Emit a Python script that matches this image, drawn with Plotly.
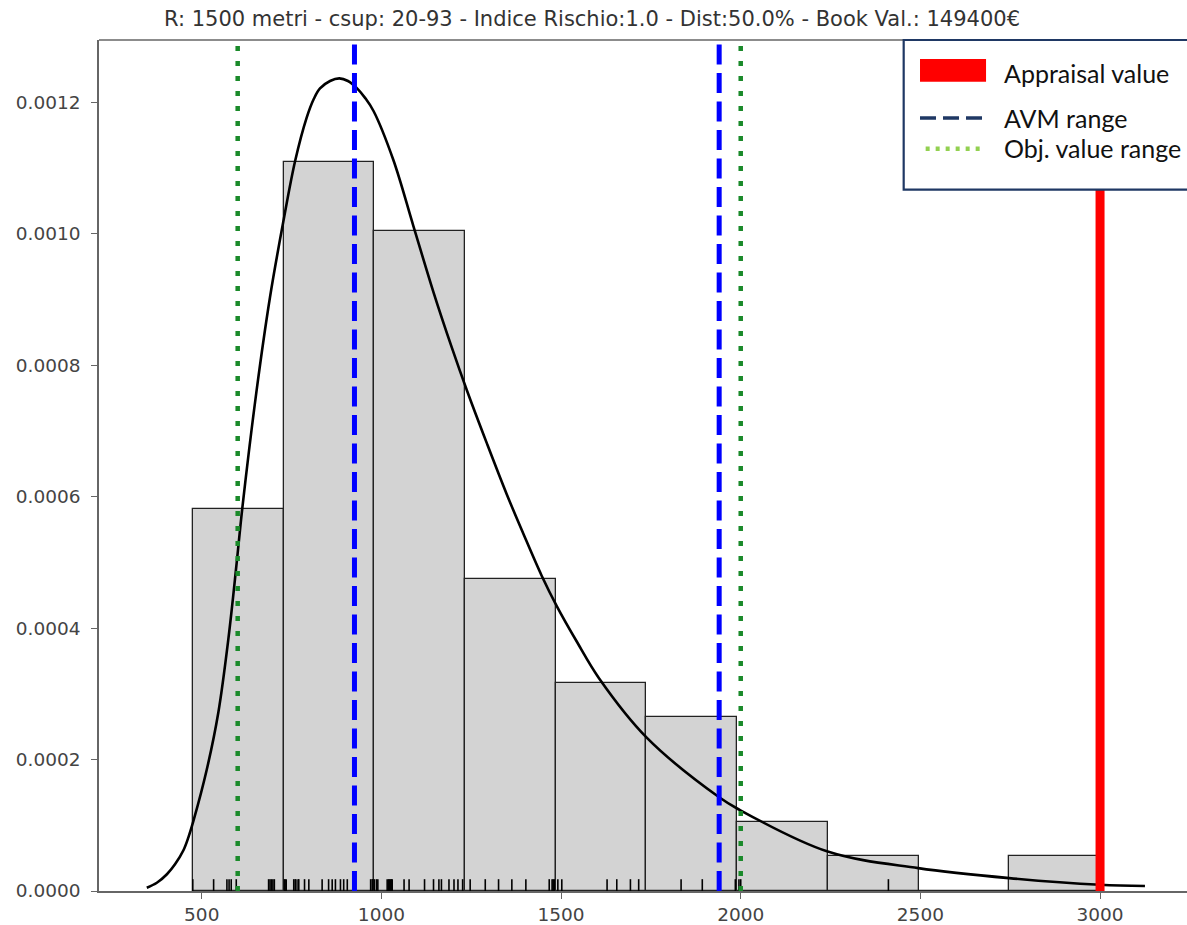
import numpy as np
import plotly.graph_objects as go

TITLE = "R: 1500 metri - csup: 20-93 - Indice Rischio:1.0 - Dist:50.0% - Book Val.: 149400€"

# observed values (rug)
samples = [475, 533, 570, 576, 582, 596, 686, 690, 694, 698, 702,
           730, 732, 735, 756, 760, 762, 768, 770, 786, 798, 835, 853, 863, 872,
           886, 895, 905, 925, 970, 975, 975,
           980, 986, 990, 1016, 1020, 1022, 1026, 1028, 1030, 1063, 1077, 1120,
           1145, 1160, 1167, 1188, 1202, 1213, 1226,
           1247, 1289, 1326, 1363, 1402, 1467, 1475, 1478, 1481,
           1491, 1502, 1628, 1655, 1693, 1716,
           1834, 1893, 1938, 1942, 1985,
           1995, 2000, 2411, 3000]
n_bins = 10

# fitted density curve
kde_x = [347, 375, 403, 426, 449, 463, 477, 514, 546, 574, 597, 613, 653, 690,
         727, 760, 792, 812, 829, 857, 883, 907, 931, 955, 978, 1033, 1089,
         1145, 1196, 1238, 1293, 1349, 1395, 1446, 1488, 1544, 1606, 1739, 1940,
         1990, 2242, 2494, 2747, 3000, 3125]
kde_y = [0.0000050, 0.0000125, 0.0000255, 0.0000410, 0.0000620, 0.0000820,
         0.0001070, 0.0001848, 0.0002712, 0.0003832, 0.0004982, 0.0005830,
         0.0007630, 0.0009036, 0.0010183, 0.0011107, 0.0011763, 0.0012050,
         0.0012207, 0.0012320, 0.0012360, 0.0012320, 0.0012216, 0.0012060,
         0.0011864, 0.0011122, 0.0010114, 0.0009106, 0.0008264, 0.0007613,
         0.0006816, 0.0006032, 0.0005434, 0.0004796, 0.0004334, 0.0003791,
         0.0003233, 0.0002329, 0.0001425, 0.0001255, 0.0000600, 0.0000348,
         0.0000196, 0.0000095, 0.0000075]

avm_range = [925, 1940]
obj_range = [600, 2000]
appraisal_value = 3000

legend_labels = ["Appraisal value", "AVM range", "Obj. value range"]

x_range = [214, 3242]
y_range = [0, 0.0012944]
x_ticks = [500, 1000, 1500, 2000, 2500, 3000]
y_ticks = [0.0, 0.0002, 0.0004, 0.0006, 0.0008, 0.0010, 0.0012]
rug_height = 0.000018

counts, edges = np.histogram(samples, bins=n_bins)
widths = np.diff(edges)
centers = edges[:-1] + widths / 2
density = counts / (len(samples) * widths)

fig = go.Figure()

fig.add_trace(go.Bar(
    x=centers, y=density, width=widths,
    marker=dict(color="#d3d3d3", line=dict(color="#222222", width=1.3)),
    showlegend=False, hoverinfo="skip"))

# rug
rx, ry = [], []
for v in samples:
    rx += [v, v, None]
    ry += [0, rug_height, None]
fig.add_trace(go.Scatter(x=rx, y=ry, mode="lines",
                         line=dict(color="black", width=1.6),
                         showlegend=False, hoverinfo="skip"))

fig.add_trace(go.Scatter(x=kde_x, y=kde_y, mode="lines",
                         line=dict(color="black", width=2.6, shape="spline", smoothing=1.0),
                         showlegend=False, hoverinfo="skip"))

for v in obj_range:
    fig.add_trace(go.Scatter(x=[v, v], y=[0, 0.0013], mode="lines",
                             line=dict(color="#1a8a2a", width=4.5, dash="5px,10px"),
                             showlegend=False, hoverinfo="skip"))
for v in avm_range:
    fig.add_trace(go.Scatter(x=[v, v], y=[0, 0.0013], mode="lines",
                             line=dict(color="#0000ff", width=5, dash="20px,8.5px"),
                             showlegend=False, hoverinfo="skip"))
fig.add_trace(go.Scatter(x=[appraisal_value, appraisal_value], y=[0, 0.0013], mode="lines",
                         line=dict(color="#ff0000", width=9),
                         showlegend=False, hoverinfo="skip"))

# frame top line
shapes = [dict(type="line", xref="paper", yref="paper", x0=0, x1=1, y0=1, y1=1,
               line=dict(color="#666666", width=1.5), layer="above")]

# custom legend box (pasted-style legend)
shapes.append(dict(type="rect", xref="paper", yref="paper",
                   x0=0.7396, x1=1.02, y0=0.8242, y1=1.0,
                   fillcolor="white", line=dict(color="#1f3864", width=2.2), layer="above"))
shapes.append(dict(type="rect", xref="paper", yref="paper",
                   x0=0.7546, x1=0.8153, y0=0.9508, y1=0.9777,
                   fillcolor="#ff0000", line=dict(width=0), layer="above"))
shapes.append(dict(type="line", xref="paper", yref="paper",
                   x0=0.7546, x1=0.8153, y0=0.9082, y1=0.9082,
                   line=dict(color="#1f3864", width=3.5, dash="16px,7px"), layer="above"))
shapes.append(dict(type="line", xref="paper", yref="paper",
                   x0=0.7598, x1=0.8110, y0=0.8722, y1=0.8722,
                   line=dict(color="#92d050", width=4.5, dash="4px,6px"), layer="above"))

annotations = []
for lbl, yy in zip(legend_labels, [0.9613, 0.9082, 0.8730]):
    annotations.append(dict(text=lbl, xref="paper", yref="paper", x=0.8300, y=yy,
                            xanchor="left", yanchor="middle", showarrow=False,
                            font=dict(family="Lato", size=25, color="#111111")))

fig.update_layout(
    width=1187, height=925, autosize=False,
    margin=dict(l=99, r=0, t=40, b=32),
    plot_bgcolor="white", paper_bgcolor="white",
    bargap=0,
    title=dict(text=TITLE, x=592 / 1187, xanchor="center", y=1 - 19 / 925, yanchor="middle",
               font=dict(family="DejaVu Sans", size=21, color="#333333")),
    shapes=shapes, annotations=annotations,
    xaxis=dict(range=x_range, tickvals=x_ticks, ticktext=[str(t) for t in x_ticks],
               showgrid=False, zeroline=False, showline=True, linecolor="#666666", linewidth=1.5,
               ticks="outside", ticklen=6, tickcolor="#666666", tickwidth=1.2,
               tickfont=dict(family="DejaVu Sans", size=18.5, color="#444444")),
    yaxis=dict(range=y_range, tickvals=y_ticks, ticktext=[f"{t:.4f}" for t in y_ticks],
               showgrid=False, zeroline=False, showline=True, linecolor="#666666", linewidth=1.5,
               ticks="outside", ticklen=6, tickcolor="#666666", tickwidth=1.2,
               ticklabelstandoff=7,
               tickfont=dict(family="DejaVu Sans", size=18.5, color="#444444")),
)

fig.write_html("out.html", config={"displayModeBar": False},
               post_script="document.body.style.margin='0';document.body.style.overflow='hidden';")
